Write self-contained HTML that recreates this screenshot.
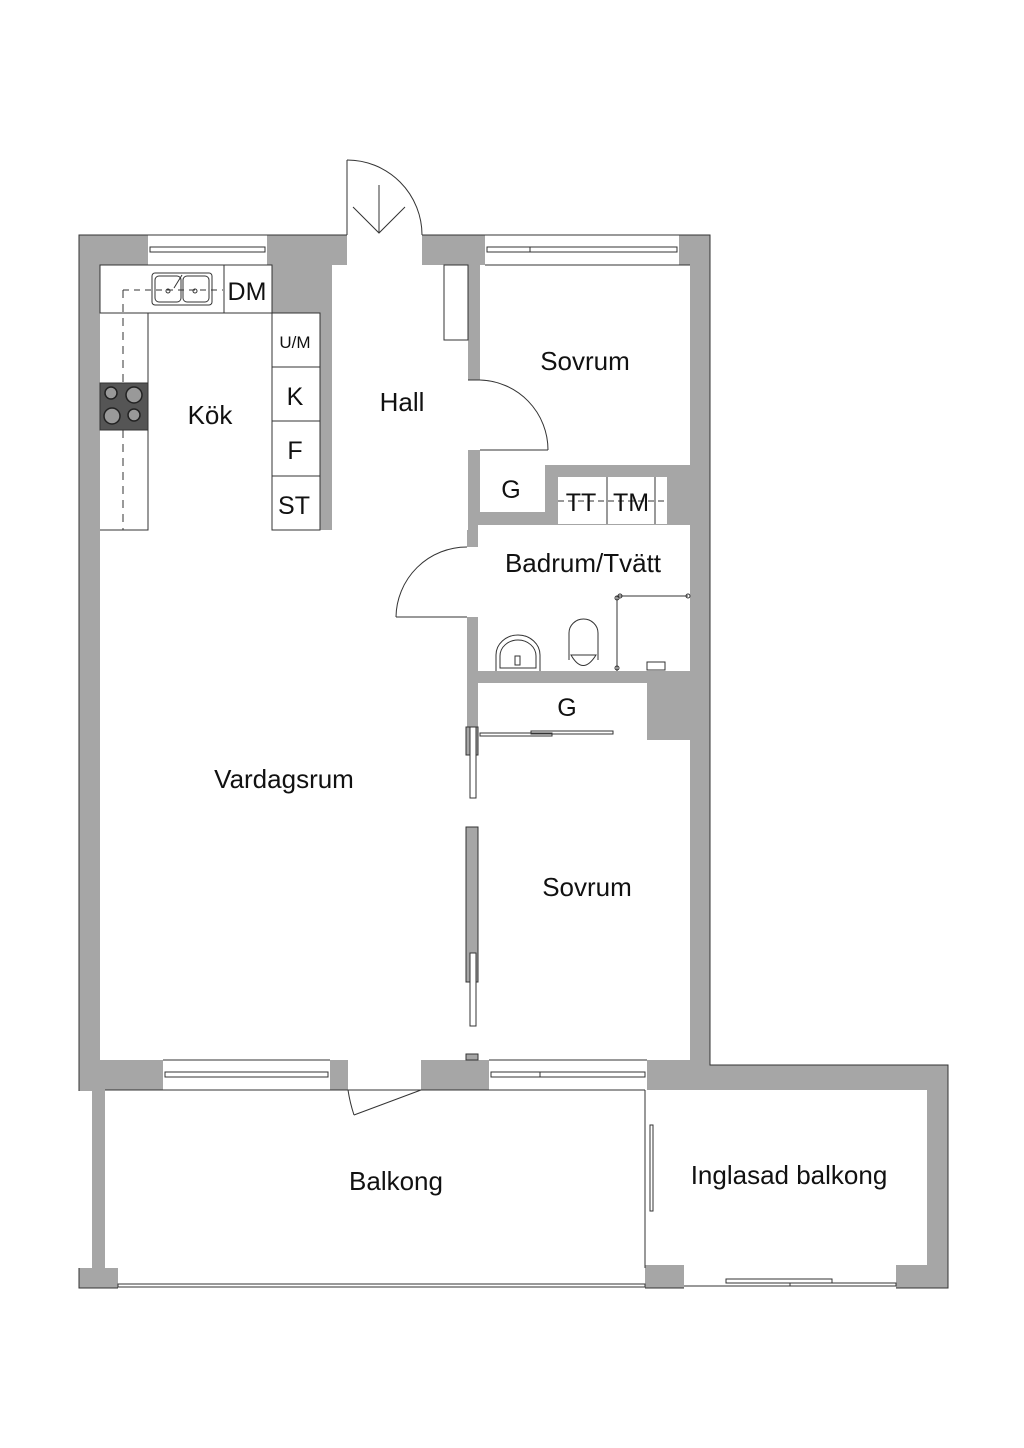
<!DOCTYPE html>
<html><head><meta charset="utf-8"><style>
html,body{margin:0;padding:0;background:#fff;}
svg{display:block;}
text{font-family:"Liberation Sans",sans-serif;fill:#111;}
</style></head><body>
<svg width="1024" height="1448" viewBox="0 0 1024 1448" xmlns="http://www.w3.org/2000/svg">
<!-- footprint -->
<polygon points="79,235 710,235 710,1065 948,1065 948,1288 79,1288" fill="#a6a6a6" stroke="#333" stroke-width="1"/>
<g fill="#fff" stroke="none">
 <!-- outside strip left of balcony -->
 <rect x="78" y="1091" width="14" height="177"/>
 <!-- kitchen/living -->
 <rect x="100" y="265" width="172" height="48"/>
 <rect x="100" y="313" width="220" height="217"/>
 <rect x="100" y="530" width="367" height="530"/>
 <rect x="466" y="755" width="12" height="305"/>
 <!-- hall -->
 <rect x="332" y="265" width="136" height="265"/>
 <rect x="347" y="234" width="75" height="32"/>
 <!-- sovrum1 -->
 <rect x="480" y="265" width="210" height="200"/>
 <rect x="467" y="380" width="14" height="70"/>
 <!-- G1 & TT -->
 <rect x="480" y="465" width="65" height="47"/>
 <rect x="558" y="477" width="109" height="47"/>
 <!-- bath -->
 <rect x="478" y="525" width="212" height="146"/>
 <rect x="466" y="547" width="13" height="70"/>
 <!-- G2 & sovrum2 -->
 <rect x="478" y="683" width="169" height="57"/>
 <rect x="478" y="740" width="212" height="320"/>
 <!-- windows top -->
 <rect x="148" y="234" width="119" height="31"/>
 <rect x="485" y="234" width="194" height="31"/>
 <!-- windows bottom -->
 <rect x="163" y="1059" width="167" height="31"/>
 <rect x="348" y="1059" width="73" height="31"/>
 <rect x="489" y="1059" width="158" height="31"/>
 <!-- balcony -->
 <rect x="105" y="1090" width="540" height="178"/>
 <rect x="118" y="1267" width="527" height="22"/>
 <rect x="645" y="1090" width="282" height="175"/>
 <rect x="684" y="1264" width="212" height="25"/>
</g>
<rect x="78" y="1289" width="872" height="4" fill="#fff"/>
<g fill="none" stroke="#333" stroke-width="1">
 <!-- window lines -->
 <rect x="150" y="247" width="115" height="5"/>
 <rect x="487" y="247" width="190" height="5"/>
 <line x1="530" y1="247" x2="530" y2="252"/>
 <line x1="148" y1="235" x2="267" y2="235"/><line x1="485" y1="235" x2="679" y2="235"/>
 <line x1="485" y1="265" x2="690" y2="265"/>
 <rect x="165" y="1072" width="163" height="5"/>
 <rect x="491" y="1072" width="154" height="5"/>
 <line x1="540" y1="1072" x2="540" y2="1077"/>
 <line x1="163" y1="1060" x2="330" y2="1060"/><line x1="489" y1="1060" x2="647" y2="1060"/>
 <line x1="105" y1="1090" x2="645" y2="1090"/>
 <!-- front door -->
 <line x1="347" y1="160" x2="347" y2="235"/>
 <path d="M347,160 A75,75 0 0 1 422,235"/>
 <line x1="379" y1="185" x2="379" y2="233"/>
 <polyline points="353,207 379,233 405,207"/>
 <!-- hall closet -->
 <rect x="444" y="265" width="24" height="75"/>
 <!-- sovrum1 door -->
 <line x1="480" y1="380" x2="468" y2="380"/>
 <line x1="480" y1="450" x2="548" y2="450"/>
 <path d="M480,380 A70,70 0 0 1 548,450"/>
 <!-- bath door -->
 <line x1="467" y1="617" x2="396" y2="617"/>
 <path d="M396,617 A71,71 0 0 1 467,547"/>
 <!-- TT TM -->
 <line x1="607" y1="477" x2="607" y2="524"/>
 <line x1="655" y1="477" x2="655" y2="524"/>
 <line x1="558" y1="501" x2="667" y2="501" stroke-dasharray="6,4"/>
 <!-- kitchen -->
 <rect x="100" y="265" width="172" height="48"/>
 <line x1="224" y1="265" x2="224" y2="313"/>
 <polyline points="100,313 148,313 148,530 100,530"/>
 <line x1="123" y1="290" x2="223" y2="290" stroke-dasharray="6,5"/>
 <line x1="123" y1="290" x2="123" y2="530" stroke-dasharray="8,6"/>
 <rect x="272" y="313" width="48" height="217"/>
 <line x1="272" y1="367" x2="320" y2="367"/>
 <line x1="272" y1="421" x2="320" y2="421"/>
 <line x1="272" y1="476" x2="320" y2="476"/>
 <rect x="152" y="273" width="60" height="32" rx="3"/>
 <rect x="155" y="276" width="26" height="26" rx="4"/>
 <rect x="183" y="276" width="26" height="26" rx="4"/>
 <circle cx="168" cy="291" r="2"/><circle cx="195" cy="291" r="2"/>
 <line x1="174" y1="288" x2="182" y2="275"/>
 <!-- bath fixtures -->
 <path d="M496,671 L496,655 A22,20 0 0 1 540,655 L540,671"/>
 <path d="M500,668 L500,656 A18,16 0 0 1 536,656 L536,668 Z"/>
 <rect x="515" y="656" width="5" height="9"/>
 <path d="M569,660 L569,633 A14.5,14 0 0 1 598,633 L598,660"/>
 <path d="M571,655 Q583,676 596,655 Z"/>
 <line x1="617" y1="596" x2="617" y2="671"/>
 <line x1="617" y1="596" x2="688" y2="596"/>
 <circle cx="617" cy="598" r="2"/><circle cx="620" cy="596" r="2"/><circle cx="688" cy="596" r="2"/><circle cx="617" cy="668" r="2"/>
 <rect x="647" y="662" width="18" height="8"/>
 <!-- G2 sliding -->
 <rect x="480" y="733" width="72" height="3"/>
 <rect x="531" y="731" width="82" height="3"/>
 <!-- balcony door -->
 <line x1="421" y1="1090" x2="354" y2="1115"/>
 <path d="M348,1090 Q350,1103 354,1115"/>
 <!-- divider & sliding -->
 <line x1="645" y1="1090" x2="645" y2="1268"/>
 <rect x="650" y="1125" width="3" height="86"/>
 <rect x="118" y="1284" width="527" height="3"/>
 <line x1="684" y1="1286" x2="896" y2="1286"/>
 <rect x="726" y="1279" width="106" height="4"/>
 <rect x="790" y="1283" width="106" height="3"/>
</g>
<!-- stove -->
<rect x="100" y="383" width="48" height="47" fill="#555" stroke="#333"/>
<g fill="#999" stroke="#222" stroke-width="1.5">
 <circle cx="111" cy="393" r="6"/><circle cx="134" cy="395" r="8"/>
 <circle cx="112" cy="416" r="8"/><circle cx="134" cy="415" r="6"/>
</g>
<!-- wall/sliding panels -->
<g stroke="#333" stroke-width="1">
 <rect x="466" y="727" width="12" height="28" fill="#a6a6a6"/>
 <rect x="470" y="727" width="6" height="71" fill="#fff"/>
 <rect x="466" y="827" width="12" height="155" fill="#a6a6a6"/>
 <rect x="470" y="953" width="6" height="73" fill="#fff"/>
 <rect x="466" y="1054" width="12" height="6" fill="#a6a6a6"/>
</g>
<!-- labels -->
<g text-anchor="middle" font-size="26">
 <text x="585" y="370">Sovrum</text>
 <text x="210" y="424">Kök</text>
 <text x="402" y="411">Hall</text>
 <text x="583" y="572">Badrum/Tvätt</text>
 <text x="284" y="788">Vardagsrum</text>
 <text x="587" y="896">Sovrum</text>
 <text x="396" y="1190">Balkong</text>
 <text x="789" y="1184">Inglasad balkong</text>
</g>
<g text-anchor="middle" font-size="25">
 <text x="247" y="300">DM</text>
 <text x="295" y="405">K</text>
 <text x="295" y="459">F</text>
 <text x="294" y="514">ST</text>
 <text x="511" y="498">G</text>
 <text x="581" y="511">TT</text>
 <text x="631" y="511">TM</text>
 <text x="567" y="716">G</text>
</g>
<text x="295" y="348" text-anchor="middle" font-size="17">U/M</text>
</svg>
</body></html>
